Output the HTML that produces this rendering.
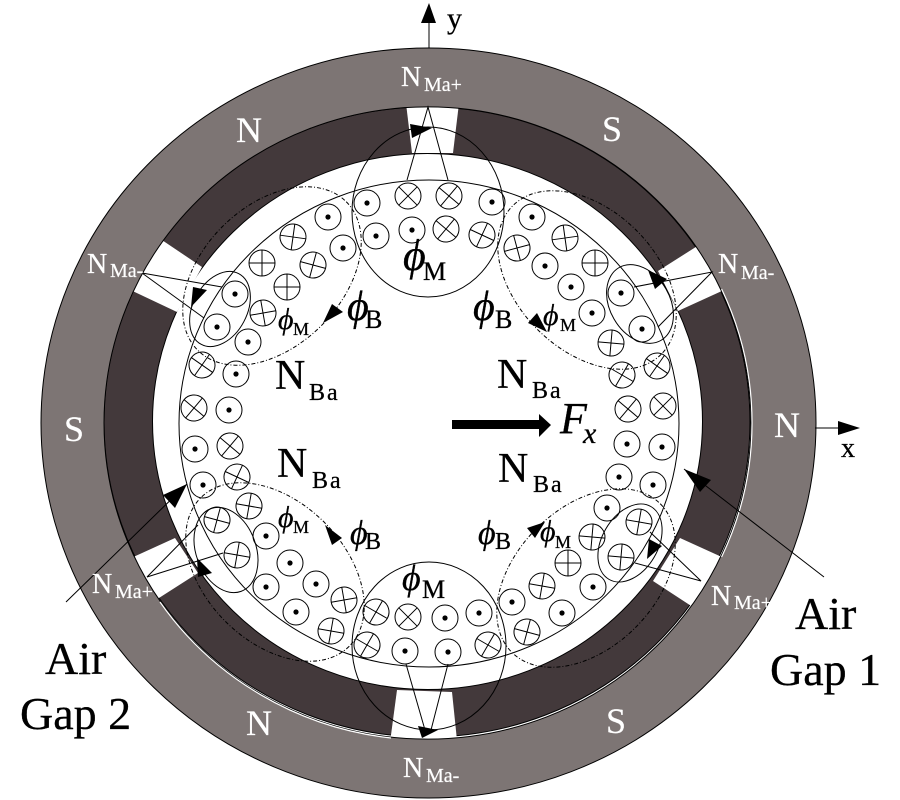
<!DOCTYPE html>
<html><head><meta charset="utf-8"><style>
html,body{margin:0;padding:0;background:#fff}
svg{display:block}
text{font-family:"Liberation Serif","DejaVu Serif",serif;fill:#000;stroke:#000;stroke-width:.3}
text.w{fill:#fff;stroke:#fff;stroke-width:.2}
.l{stroke:#000;stroke-width:1;fill:none}
.h{stroke:#000;stroke-width:1;fill:none;stroke-dasharray:4 2 1 2}
.phi{font-style:italic}
</style></head><body>
<svg width="900" height="800" viewBox="0 0 900 800" xmlns="http://www.w3.org/2000/svg">
<defs>
<g id="d"><circle r="13" fill="none" stroke="#000"/><circle r="2.6" fill="#000"/></g>
<g id="p"><circle r="13" fill="none" stroke="#000"/><path d="M-13 0H13M0-13V13" stroke="#000" fill="none"/></g>
</defs>
<rect width="900" height="800" fill="#fff"/>
<!-- magnets -->
<ellipse cx="427" cy="422" rx="323" ry="315" fill="#43393b" stroke="#000"/>
<ellipse cx="427.5" cy="421.5" rx="275" ry="268" fill="#fff" stroke="#000"/>
<!-- gaps -->
<g fill="#fff">
<polygon points="405,95 412,153 453,153 460,95"/>
<polygon points="150,232 202,267 177,312 120,285"/>
<polygon points="710,238 658,271 678,311 735,285"/>
<polygon points="120,563 175,538 198,573 148,605"/>
<polygon points="735,563 680,538 653,581 705,615"/>
<polygon points="397,690 452,692 458,750 389,750"/>
</g>
<!-- stator ring -->
<path fill-rule="evenodd" fill="#7d7574" stroke="#000" d="M41 423a387.500 375 0 1 0 775 0a387.500 375 0 1 0-775 0ZM104 423a323.500 316 0 1 0 647 0a323.500 316 0 1 0-647 0Z"/>
<!-- white slivers between magnet and ring -->
<path fill="none" stroke="#fff" stroke-width="1.2" d="M721.600 289A324.500 317 0 0 1 721.600 557M160 602A324.500 317 0 0 0 391 738"/>
<!-- rotor -->
<ellipse class="l" cx="429" cy="423.500" rx="250" ry="243.500"/>
<!-- big flux ellipses -->
<ellipse class="l" cx="428" cy="212" rx="76" ry="85"/>
<ellipse class="l" cx="429" cy="646" rx="77" ry="84"/>
<!-- dashed -->
<ellipse class="h" cx="272" cy="276" rx="105" ry="70" transform="rotate(-45 272 276)"/>
<ellipse class="h" cx="587" cy="280" rx="105" ry="70" transform="rotate(45 587 280)"/>
<ellipse class="h" cx="275" cy="572" rx="105" ry="70" transform="rotate(45 275 572)"/>
<ellipse class="h" cx="586" cy="578" rx="105" ry="70" transform="rotate(-45 586 578)"/>
<!-- small ellipses -->
<ellipse class="l" cx="220" cy="309" rx="40" ry="27" transform="rotate(-62 220 309)"/>
<ellipse class="l" cx="640" cy="304" rx="42" ry="30" transform="rotate(60 640 304)"/>
<ellipse class="l" cx="226" cy="550" rx="44" ry="30" transform="rotate(70 226 550)"/>
<ellipse class="l" cx="630" cy="543" rx="42" ry="28" transform="rotate(-60 630 543)"/>
<!-- coils dot -->
<use href="#d" x="367" y="203"/><use href="#d" x="492" y="202"/><use href="#d" x="376" y="236"/><use href="#d" x="412" y="230"/>
<use href="#d" x="328" y="217"/><use href="#d" x="343" y="248"/><use href="#d" x="235" y="294"/><use href="#d" x="217" y="327"/><use href="#d" x="248" y="342"/><use href="#d" x="236" y="374"/><use href="#d" x="229" y="410"/><use href="#d" x="195" y="449"/><use href="#d" x="203" y="485"/>
<use href="#d" x="266" y="536"/><use href="#d" x="290" y="563"/><use href="#d" x="266" y="587"/><use href="#d" x="316" y="584"/><use href="#d" x="296" y="612"/>
<use href="#d" x="445" y="618"/><use href="#d" x="479" y="613"/><use href="#d" x="405" y="651"/><use href="#d" x="448" y="652"/>
<use href="#d" x="512" y="602"/><use href="#d" x="562" y="613"/><use href="#d" x="593" y="587"/><use href="#d" x="607" y="508"/><use href="#d" x="619" y="477"/><use href="#d" x="653" y="485"/>
<use href="#d" x="532" y="217"/><use href="#d" x="545" y="266"/><use href="#d" x="571" y="287"/><use href="#d" x="592" y="313"/><use href="#d" x="621" y="293"/><use href="#d" x="642" y="329"/><use href="#d" x="627" y="444"/><use href="#d" x="662" y="447"/>
<!-- coils plus -->
<use href="#p" transform="translate(293 237) rotate(8)"/><use href="#p" transform="translate(313 265) rotate(15)"/><use href="#p" transform="translate(262 263)"/><use href="#p" transform="translate(287 287)"/><use href="#p" transform="translate(263 313) rotate(-10)"/>
<use href="#p" transform="translate(249 506) rotate(10)"/><use href="#p" transform="translate(217 520) rotate(15)"/><use href="#p" transform="translate(237 555) rotate(10)"/><use href="#p" transform="translate(344 600) rotate(-10)"/><use href="#p" transform="translate(331 631) rotate(10)"/>
<use href="#p" transform="translate(527 632) rotate(15)"/><use href="#p" transform="translate(542 586) rotate(10)"/><use href="#p" transform="translate(568 563)"/><use href="#p" transform="translate(592 537) rotate(5)"/><use href="#p" transform="translate(639 522) rotate(10)"/><use href="#p" transform="translate(621 557) rotate(5)"/>
<use href="#p" transform="translate(517 248) rotate(-15)"/><use href="#p" transform="translate(565 238) rotate(-8)"/><use href="#p" transform="translate(595 263)"/><use href="#p" transform="translate(611 343) rotate(5)"/>
<!-- coils x -->
<use href="#p" transform="translate(408 196) rotate(45)"/><use href="#p" transform="translate(449 196) rotate(40)"/><use href="#p" transform="translate(446 229) rotate(40)"/><use href="#p" transform="translate(482 235) rotate(25)"/>
<use href="#p" transform="translate(202 365) rotate(35)"/><use href="#p" transform="translate(194 408) rotate(40)"/><use href="#p" transform="translate(230 446) rotate(40)"/><use href="#p" transform="translate(237 477) rotate(25)"/>
<use href="#p" transform="translate(376 612) rotate(30)"/><use href="#p" transform="translate(408 617) rotate(45)"/><use href="#p" transform="translate(367 645) rotate(30)"/><use href="#p" transform="translate(488 645) rotate(30)"/>
<use href="#p" transform="translate(622 375) rotate(30)"/><use href="#p" transform="translate(657 366) rotate(35)"/><use href="#p" transform="translate(628 409) rotate(40)"/><use href="#p" transform="translate(663 406) rotate(45)"/>
<!-- leader lines -->
<path class="l" d="M407 180L428 107L448 180M222 287L142 273L204 318M634 287L712 272L658 327M198 525L147 577L223 553M650 532L701 581L635 563M406 664L425 730M448 664L431 730M684 469L824 577M187 484L66 602M429 48V20M815 428H840"/>
<!-- arrowheads -->
<g fill="#000">
<polygon points="410,124 432,128 412,138"/>
<polygon points="193,287 207,290 191,307"/>
<polygon points="648,270 667,279 655,289"/>
<polygon points="197,558 212,573 198,577"/>
<polygon points="649,539 662,546 647,559"/>
<polygon points="418,726 438,730 422,738"/>
<polygon points="684,469 711,480 700,492"/>
<polygon points="187,484 163,495 175,508"/>
<polygon points="323,323 332,304 343,312"/>
<polygon points="528,323 537,313 547,332"/>
<polygon points="325,525 342,538 332,545"/>
<polygon points="527,528 545,522 535,538"/>
<polygon points="429,3 436,23 421,23"/>
<polygon points="838,421 860,428 838,435"/>
<polygon points="452,420 539,420 539,414 551,425 539,437 539,429 452,429"/>
</g>
<!-- axis labels -->
<text x="447" y="28" font-size="30">y</text>
<text x="841" y="457" font-size="28">x</text>
<!-- pole letters -->
<text class="w" x="236" y="142" font-size="36">N</text>
<text class="w" x="602" y="141" font-size="36">S</text>
<text class="w" x="774" y="437" font-size="36">N</text>
<text class="w" x="64" y="441" font-size="36">S</text>
<text class="w" x="246" y="735" font-size="36">N</text>
<text class="w" x="606" y="733" font-size="36">S</text>
<!-- NMa labels -->
<text class="w" x="401" y="86" font-size="28">N</text><text class="w" x="424" y="91" font-size="20">Ma+</text>
<text class="w" x="87" y="273" font-size="28">N</text><text class="w" x="110" y="277" font-size="20">Ma-</text>
<text class="w" x="718" y="273" font-size="28">N</text><text class="w" x="741" y="279" font-size="20">Ma-</text>
<text class="w" x="92" y="593" font-size="28">N</text><text class="w" x="115" y="598" font-size="20">Ma+</text>
<text class="w" x="711" y="605" font-size="28">N</text><text class="w" x="734" y="609" font-size="20">Ma+</text>
<text class="w" x="403" y="777" font-size="28">N</text><text class="w" x="426" y="782" font-size="20">Ma-</text>
<!-- NBa labels -->
<text x="275" y="389" font-size="42">N</text><text x="309" y="400" font-size="24" letter-spacing="2">Ba</text>
<text x="497" y="388" font-size="42">N</text><text x="532" y="398" font-size="24" letter-spacing="2">Ba</text>
<text x="277" y="477" font-size="42">N</text><text x="312" y="488" font-size="24" letter-spacing="2">Ba</text>
<text x="498" y="482" font-size="42">N</text><text x="533" y="492" font-size="24" letter-spacing="2">Ba</text>
<!-- phi labels -->
<text class="phi" x="403" y="270" font-size="44">ϕ</text><text x="423" y="280" font-size="26">M</text>
<text class="phi" x="402" y="590" font-size="36">ϕ</text><text x="422" y="598" font-size="26">M</text>
<text class="phi" x="278" y="329" font-size="30">ϕ</text><text x="293" y="335" font-size="18">M</text>
<text class="phi" x="543" y="325" font-size="30">ϕ</text><text x="560" y="331" font-size="18">M</text>
<text class="phi" x="278" y="527" font-size="30">ϕ</text><text x="293" y="533" font-size="18">M</text>
<text class="phi" x="540" y="541" font-size="30">ϕ</text><text x="555" y="548" font-size="18">M</text>
<text class="phi" x="347" y="320" font-size="42">ϕ</text><text x="365" y="328" font-size="26">B</text>
<text class="phi" x="473" y="320" font-size="42">ϕ</text><text x="495" y="328" font-size="26">B</text>
<text class="phi" x="350" y="544" font-size="34">ϕ</text><text x="365" y="549" font-size="24">B</text>
<text class="phi" x="478" y="544" font-size="34">ϕ</text><text x="495" y="549" font-size="24">B</text>
<!-- force -->
<text x="560" y="433" font-size="44" font-style="italic">F</text><text x="583" y="443" font-size="30" font-style="italic">x</text>
<!-- air gaps -->
<text x="45" y="674" font-size="46">Air</text><text x="20" y="729" font-size="46">Gap 2</text>
<text x="795" y="629" font-size="46">Air</text><text x="770" y="685" font-size="46">Gap 1</text>
</svg>
</body></html>
